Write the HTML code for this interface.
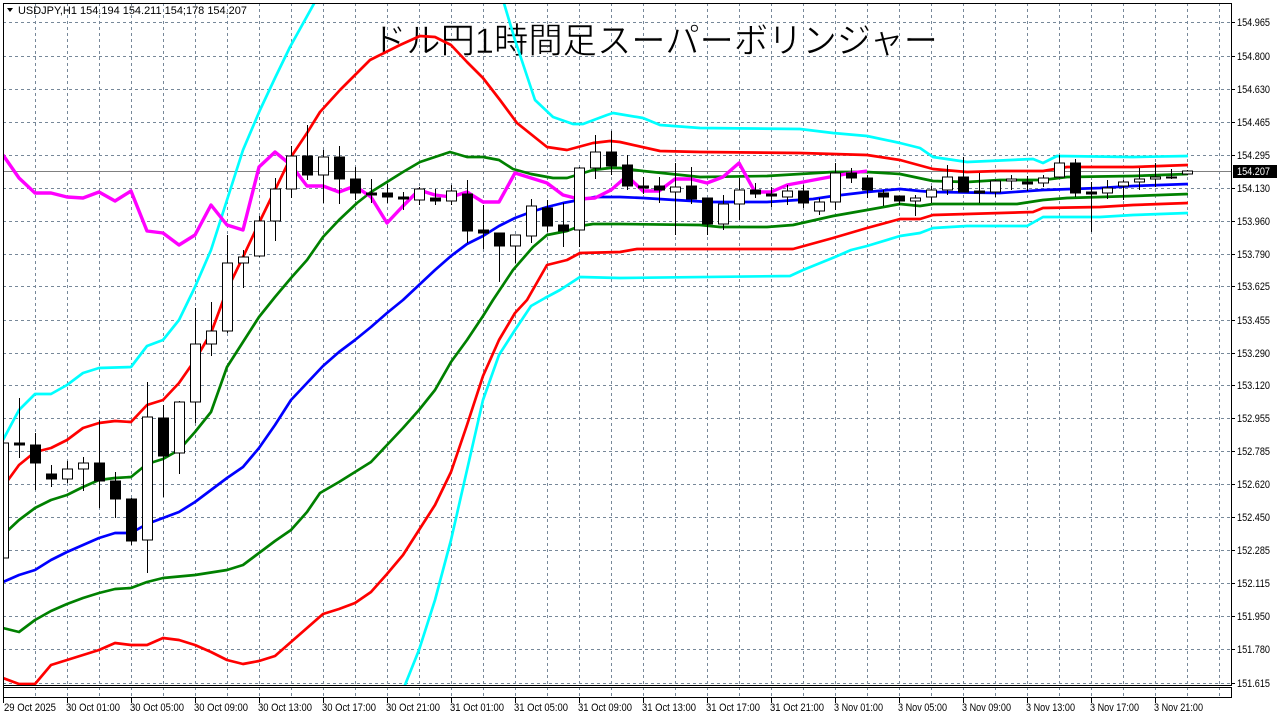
<!DOCTYPE html>
<html><head><meta charset="utf-8"><style>
html,body{margin:0;padding:0;background:#fff;}
svg{display:block;font-family:"Liberation Sans","DejaVu Sans",sans-serif;}
</style></head><body>
<svg width="1277" height="718" viewBox="0 0 1277 718" xmlns="http://www.w3.org/2000/svg">
<defs><clipPath id="c"><rect x="3" y="3" width="1229" height="682"/></clipPath></defs>
<rect width="1277" height="718" fill="#fff"/>
<g stroke="#778899" stroke-width="1" stroke-dasharray="3,3" shape-rendering="crispEdges">
<line x1="3" x2="1232" y1="22.5" y2="22.5"/><line x1="3" x2="1232" y1="56.5" y2="56.5"/><line x1="3" x2="1232" y1="89.5" y2="89.5"/><line x1="3" x2="1232" y1="122.5" y2="122.5"/><line x1="3" x2="1232" y1="155.5" y2="155.5"/><line x1="3" x2="1232" y1="188.5" y2="188.5"/><line x1="3" x2="1232" y1="221.5" y2="221.5"/><line x1="3" x2="1232" y1="254.5" y2="254.5"/><line x1="3" x2="1232" y1="286.5" y2="286.5"/><line x1="3" x2="1232" y1="320.5" y2="320.5"/><line x1="3" x2="1232" y1="353.5" y2="353.5"/><line x1="3" x2="1232" y1="385.5" y2="385.5"/><line x1="3" x2="1232" y1="418.5" y2="418.5"/><line x1="3" x2="1232" y1="451.5" y2="451.5"/><line x1="3" x2="1232" y1="484.5" y2="484.5"/><line x1="3" x2="1232" y1="517.5" y2="517.5"/><line x1="3" x2="1232" y1="550.5" y2="550.5"/><line x1="3" x2="1232" y1="583.5" y2="583.5"/><line x1="3" x2="1232" y1="616.5" y2="616.5"/><line x1="3" x2="1232" y1="649.5" y2="649.5"/><line x1="3" x2="1232" y1="683.5" y2="683.5"/>
</g>
<g stroke="#778899" stroke-width="1" stroke-dasharray="3,3" shape-rendering="crispEdges">
<line x1="35.5" x2="35.5" y1="3" y2="697"/><line x1="67.5" x2="67.5" y1="3" y2="697"/><line x1="99.5" x2="99.5" y1="3" y2="697"/><line x1="131.5" x2="131.5" y1="3" y2="697"/><line x1="163.5" x2="163.5" y1="3" y2="697"/><line x1="195.5" x2="195.5" y1="3" y2="697"/><line x1="227.5" x2="227.5" y1="3" y2="697"/><line x1="259.5" x2="259.5" y1="3" y2="697"/><line x1="291.5" x2="291.5" y1="3" y2="697"/><line x1="323.5" x2="323.5" y1="3" y2="697"/><line x1="355.5" x2="355.5" y1="3" y2="697"/><line x1="387.5" x2="387.5" y1="3" y2="697"/><line x1="419.5" x2="419.5" y1="3" y2="697"/><line x1="451.5" x2="451.5" y1="3" y2="697"/><line x1="483.5" x2="483.5" y1="3" y2="697"/><line x1="515.5" x2="515.5" y1="3" y2="697"/><line x1="547.5" x2="547.5" y1="3" y2="697"/><line x1="579.5" x2="579.5" y1="3" y2="697"/><line x1="611.5" x2="611.5" y1="3" y2="697"/><line x1="643.5" x2="643.5" y1="3" y2="697"/><line x1="675.5" x2="675.5" y1="3" y2="697"/><line x1="707.5" x2="707.5" y1="3" y2="697"/><line x1="739.5" x2="739.5" y1="3" y2="697"/><line x1="771.5" x2="771.5" y1="3" y2="697"/><line x1="803.5" x2="803.5" y1="3" y2="697"/><line x1="835.5" x2="835.5" y1="3" y2="697"/><line x1="867.5" x2="867.5" y1="3" y2="697"/><line x1="899.5" x2="899.5" y1="3" y2="697"/><line x1="931.5" x2="931.5" y1="3" y2="697"/><line x1="963.5" x2="963.5" y1="3" y2="697"/><line x1="995.5" x2="995.5" y1="3" y2="697"/><line x1="1027.5" x2="1027.5" y1="3" y2="697"/><line x1="1059.5" x2="1059.5" y1="3" y2="697"/><line x1="1091.5" x2="1091.5" y1="3" y2="697"/><line x1="1123.5" x2="1123.5" y1="3" y2="697"/><line x1="1155.5" x2="1155.5" y1="3" y2="697"/><line x1="1187.5" x2="1187.5" y1="3" y2="697"/><line x1="1219.5" x2="1219.5" y1="3" y2="697"/>
</g>
<line x1="3" x2="1232" y1="171.5" y2="171.5" stroke="#808080" stroke-width="1"/>

<text x="372" y="53" font-family="'Liberation Sans','Noto Sans CJK JP',sans-serif" font-size="35" fill="#000" stroke="#fff" stroke-width="0.6" textLength="566" lengthAdjust="spacingAndGlyphs">ドル円1時間足スーパーボリンジャー</text>

<g clip-path="url(#c)" fill="none" stroke-linejoin="round">
<polyline stroke="#00ffff" stroke-width="2.7" points="3,440 19,410 35,394 51,394 67,385 83,373 99,368 131,367 147,346 163,340 179,320 195,287 211,250 227,200 243,150 260,110 275,78 290,47 316,0"/>
<polyline stroke="#00ffff" stroke-width="2.7" points="503,0 515,40 535,100 553,117 573,124 583,124 607,115 613,113 643,118 660,125 700,128 800,129 833,133 867,136 900,143 920,148 933,157 967,162 1033,159 1043,163 1057,156 1133,157 1188,156"/>
<polyline stroke="#00ffff" stroke-width="2.7" points="403,690 419,650 435,600 451,540 467,470 483,400 499,355 515,330 531,306 545,298 560,290 580,277 620,278 790,276 803,270 835,257 851,250 867,246 900,236 920,233 933,228 967,226 1027,226 1043,217 1100,217 1133,215 1188,213"/>
<polyline stroke="#ff0000" stroke-width="2.7" points="3,487 19,465 35,452 51,448 67,440 83,428 99,423 115,421 131,422 147,405 163,400 179,383 195,360 211,333 227,290 243,257 259,223 275,190 291,157 307,133 320,112 340,90 370,60 400,45 420,36 435,37 451,45 467,62 483,78 500,100 517,123 547,147 567,150 593,143 610,141 620,142 660,151 700,152 800,153 867,155 900,160 933,169 967,172 1000,171 1043,171 1067,167 1133,167 1188,165"/>
<polyline stroke="#ff0000" stroke-width="2.7" points="3,678 19,684 35,684 51,665 67,660 83,655 99,650 115,643 131,645 147,645 163,638 179,640 195,645 211,652 227,660 243,664 259,661 275,656 291,642 307,628 323,614 339,609 355,603 371,592 387,574 403,555 419,530 435,505 451,472 467,425 483,376 499,340 515,313 527,300 547,265 567,260 580,253 620,252 637,249 703,249 793,249 833,238 867,228 900,219 920,219 933,215 1033,212 1043,208 1100,207 1133,205 1188,203"/>
<polyline stroke="#008000" stroke-width="2.7" points="3,535 19,520 35,508 51,500 67,495 83,487 99,480 115,478 131,477 147,464 163,459 179,450 195,432 211,412 227,367 243,342 259,317 275,297 291,278 307,260 323,237 339,220 357,203 371,192 387,182 403,172 420,162 435,157 450,152 467,157 483,157 499,160 513,169 531,174 553,178 567,178 580,174 593,170 610,168 620,168 643,171 700,177 767,176 833,172 867,172 900,174 933,181 967,182 1000,180 1043,180 1067,177 1133,176 1188,174"/>
<polyline stroke="#008000" stroke-width="2.7" points="3,628 19,632 35,620 51,611 67,604 83,598 99,593 115,589 131,588 147,582 163,578 195,575 227,570 243,565 259,553 275,541 291,530 307,512 320,493 339,482 355,472 371,462 387,445 403,428 419,410 435,390 451,362 467,340 483,316 493,300 513,270 533,247 547,235 567,231 580,226 593,224 620,224 700,225 720,227 767,227 793,225 833,216 867,210 900,204 920,206 933,204 1017,204 1043,200 1067,198 1133,196 1188,194"/>
<polyline stroke="#0000ff" stroke-width="2.7" points="3,582 19,575 35,570 51,560 67,552 83,545 99,538 115,533 131,533 147,524 163,518 179,512 195,502 211,490 227,478 243,467 259,448 275,425 291,400 307,383 323,366 339,352 355,340 371,327 387,313 403,300 419,285 435,270 451,256 467,244 483,236 499,226 515,218 531,212 547,207 563,203 579,200 595,197 620,197 643,198 675,200 710,202 767,202 813,199 833,196 867,192 900,189 920,191 933,192 1000,193 1043,190 1100,188 1133,186 1188,184"/>
<polyline stroke="#ff00ff" stroke-width="3.4" points="3,155 19,178 35,193 51,193 67,197 83,198 99,192 115,201 131,191 147,231 163,233 179,245 195,235 211,205 227,225 243,230 259,167 275,152 291,165 307,186 323,186 339,192 355,186 371,197 387,223 403,206 419,190 435,195 451,197 467,192 483,202 499,202 515,173 531,178 547,183 563,195 579,199 595,198 611,190 627,176 643,191 659,191 675,179 691,179 707,183 723,177 739,163 755,192 771,192 787,185 803,182 819,179 835,176 851,173 867,171"/>
</g>

<g stroke="#000" stroke-width="1" shape-rendering="crispEdges">
<line x1="3.5" x2="3.5" y1="400" y2="570"/><rect x="-1.5" y="443" width="10" height="115" fill="#fff"/>
<line x1="19.5" x2="19.5" y1="398" y2="458"/><rect x="14.5" y="443" width="10" height="2" fill="#000"/>
<line x1="35.5" x2="35.5" y1="433" y2="490"/><rect x="30.5" y="445" width="10" height="18" fill="#000"/>
<line x1="51.5" x2="51.5" y1="465" y2="487"/><rect x="46.5" y="474" width="10" height="5" fill="#000"/>
<line x1="67.5" x2="67.5" y1="461" y2="483"/><rect x="62.5" y="469" width="10" height="10" fill="#fff"/>
<line x1="83.5" x2="83.5" y1="457" y2="491"/><rect x="78.5" y="463" width="10" height="6" fill="#fff"/>
<line x1="99.5" x2="99.5" y1="420" y2="508"/><rect x="94.5" y="463" width="10" height="18" fill="#000"/>
<line x1="115.5" x2="115.5" y1="472" y2="518"/><rect x="110.5" y="481" width="10" height="18" fill="#000"/>
<line x1="131.5" x2="131.5" y1="498" y2="545"/><rect x="126.5" y="499" width="10" height="42" fill="#000"/>
<line x1="147.5" x2="147.5" y1="382" y2="573"/><rect x="142.5" y="417" width="10" height="123" fill="#fff"/>
<line x1="163.5" x2="163.5" y1="405" y2="497"/><rect x="158.5" y="418" width="10" height="38" fill="#000"/>
<line x1="179.5" x2="179.5" y1="401" y2="474"/><rect x="174.5" y="402" width="10" height="51" fill="#fff"/>
<line x1="195.5" x2="195.5" y1="308" y2="423"/><rect x="190.5" y="344" width="10" height="58" fill="#fff"/>
<line x1="211.5" x2="211.5" y1="302" y2="356"/><rect x="206.5" y="331" width="10" height="13" fill="#fff"/>
<line x1="227.5" x2="227.5" y1="235" y2="333"/><rect x="222.5" y="263" width="10" height="68" fill="#fff"/>
<line x1="243.5" x2="243.5" y1="250" y2="288"/><rect x="238.5" y="257" width="10" height="6" fill="#fff"/>
<line x1="259.5" x2="259.5" y1="216" y2="257"/><rect x="254.5" y="221" width="10" height="35" fill="#fff"/>
<line x1="275.5" x2="275.5" y1="178" y2="241"/><rect x="270.5" y="189" width="10" height="32" fill="#fff"/>
<line x1="291.5" x2="291.5" y1="146" y2="198"/><rect x="286.5" y="156" width="10" height="33" fill="#fff"/>
<line x1="307.5" x2="307.5" y1="125" y2="180"/><rect x="302.5" y="156" width="10" height="19" fill="#000"/>
<line x1="323.5" x2="323.5" y1="150" y2="203"/><rect x="318.5" y="157" width="10" height="18" fill="#fff"/>
<line x1="339.5" x2="339.5" y1="146" y2="204"/><rect x="334.5" y="157" width="10" height="22" fill="#000"/>
<line x1="355.5" x2="355.5" y1="167" y2="200"/><rect x="350.5" y="179" width="10" height="14" fill="#000"/>
<line x1="371.5" x2="371.5" y1="179" y2="203"/><rect x="366.5" y="193" width="10" height="2" fill="#000"/>
<line x1="387.5" x2="387.5" y1="184" y2="203"/><rect x="382.5" y="193" width="10" height="4" fill="#000"/>
<line x1="403.5" x2="403.5" y1="192" y2="210"/><rect x="398.5" y="197" width="10" height="2" fill="#000"/>
<line x1="419.5" x2="419.5" y1="187" y2="205"/><rect x="414.5" y="189" width="10" height="11" fill="#fff"/>
<line x1="435.5" x2="435.5" y1="189" y2="205"/><rect x="430.5" y="198" width="10" height="3" fill="#000"/>
<line x1="451.5" x2="451.5" y1="185" y2="205"/><rect x="446.5" y="191" width="10" height="10" fill="#fff"/>
<line x1="467.5" x2="467.5" y1="180" y2="243"/><rect x="462.5" y="194" width="10" height="37" fill="#000"/>
<line x1="483.5" x2="483.5" y1="205" y2="249"/><rect x="478.5" y="230" width="10" height="3" fill="#000"/>
<line x1="499.5" x2="499.5" y1="233" y2="282"/><rect x="494.5" y="233" width="10" height="13" fill="#000"/>
<line x1="515.5" x2="515.5" y1="235" y2="263"/><rect x="510.5" y="235" width="10" height="11" fill="#fff"/>
<line x1="531.5" x2="531.5" y1="199" y2="243"/><rect x="526.5" y="206" width="10" height="30" fill="#fff"/>
<line x1="547.5" x2="547.5" y1="200" y2="232"/><rect x="542.5" y="208" width="10" height="18" fill="#000"/>
<line x1="563.5" x2="563.5" y1="203" y2="247"/><rect x="558.5" y="225" width="10" height="6" fill="#000"/>
<line x1="579.5" x2="579.5" y1="167" y2="247"/><rect x="574.5" y="168" width="10" height="62" fill="#fff"/>
<line x1="595.5" x2="595.5" y1="135" y2="179"/><rect x="590.5" y="152" width="10" height="16" fill="#fff"/>
<line x1="611.5" x2="611.5" y1="131" y2="175"/><rect x="606.5" y="152" width="10" height="14" fill="#000"/>
<line x1="627.5" x2="627.5" y1="155" y2="190"/><rect x="622.5" y="165" width="10" height="21" fill="#000"/>
<line x1="643.5" x2="643.5" y1="177" y2="194"/><rect x="638.5" y="186" width="10" height="2" fill="#000"/>
<line x1="659.5" x2="659.5" y1="177" y2="203"/><rect x="654.5" y="186" width="10" height="4" fill="#000"/>
<line x1="675.5" x2="675.5" y1="163" y2="235"/><rect x="670.5" y="187" width="10" height="5" fill="#fff"/>
<line x1="691.5" x2="691.5" y1="167" y2="204"/><rect x="686.5" y="186" width="10" height="13" fill="#000"/>
<line x1="707.5" x2="707.5" y1="198" y2="235"/><rect x="702.5" y="198" width="10" height="26" fill="#000"/>
<line x1="723.5" x2="723.5" y1="195" y2="230"/><rect x="718.5" y="204" width="10" height="20" fill="#fff"/>
<line x1="739.5" x2="739.5" y1="178" y2="220"/><rect x="734.5" y="190" width="10" height="14" fill="#fff"/>
<line x1="755.5" x2="755.5" y1="183" y2="198"/><rect x="750.5" y="190" width="10" height="4" fill="#000"/>
<line x1="771.5" x2="771.5" y1="187" y2="207"/><rect x="766.5" y="194" width="10" height="2" fill="#000"/>
<line x1="787.5" x2="787.5" y1="185" y2="205"/><rect x="782.5" y="191" width="10" height="6" fill="#fff"/>
<line x1="803.5" x2="803.5" y1="185" y2="208"/><rect x="798.5" y="191" width="10" height="12" fill="#000"/>
<line x1="819.5" x2="819.5" y1="198" y2="215"/><rect x="814.5" y="202" width="10" height="9" fill="#fff"/>
<line x1="835.5" x2="835.5" y1="163" y2="210"/><rect x="830.5" y="173" width="10" height="29" fill="#fff"/>
<line x1="851.5" x2="851.5" y1="168" y2="183"/><rect x="846.5" y="173" width="10" height="5" fill="#000"/>
<line x1="867.5" x2="867.5" y1="175" y2="198"/><rect x="862.5" y="178" width="10" height="12" fill="#000"/>
<line x1="883.5" x2="883.5" y1="190" y2="206"/><rect x="878.5" y="193" width="10" height="4" fill="#000"/>
<line x1="899.5" x2="899.5" y1="196" y2="205"/><rect x="894.5" y="196" width="10" height="5" fill="#000"/>
<line x1="915.5" x2="915.5" y1="195" y2="216"/><rect x="910.5" y="198" width="10" height="3" fill="#fff"/>
<line x1="931.5" x2="931.5" y1="186" y2="203"/><rect x="926.5" y="190" width="10" height="7" fill="#fff"/>
<line x1="947.5" x2="947.5" y1="165" y2="195"/><rect x="942.5" y="177" width="10" height="13" fill="#fff"/>
<line x1="963.5" x2="963.5" y1="157" y2="192"/><rect x="958.5" y="177" width="10" height="15" fill="#000"/>
<line x1="979.5" x2="979.5" y1="173" y2="203"/><rect x="974.5" y="191" width="10" height="2" fill="#000"/>
<line x1="995.5" x2="995.5" y1="180" y2="197"/><rect x="990.5" y="181" width="10" height="11" fill="#fff"/>
<line x1="1011.5" x2="1011.5" y1="175" y2="190"/><rect x="1006.5" y="179" width="10" height="2" fill="#fff"/>
<line x1="1027.5" x2="1027.5" y1="176" y2="191"/><rect x="1022.5" y="182" width="10" height="2" fill="#000"/>
<line x1="1043.5" x2="1043.5" y1="175" y2="187"/><rect x="1038.5" y="178" width="10" height="5" fill="#fff"/>
<line x1="1059.5" x2="1059.5" y1="155" y2="178"/><rect x="1054.5" y="163" width="10" height="14" fill="#fff"/>
<line x1="1075.5" x2="1075.5" y1="159" y2="197"/><rect x="1070.5" y="163" width="10" height="30" fill="#000"/>
<line x1="1091.5" x2="1091.5" y1="182" y2="232"/><rect x="1086.5" y="192" width="10" height="2" fill="#000"/>
<line x1="1107.5" x2="1107.5" y1="180" y2="199"/><rect x="1102.5" y="188" width="10" height="5" fill="#fff"/>
<line x1="1123.5" x2="1123.5" y1="180" y2="200"/><rect x="1118.5" y="182" width="10" height="4" fill="#fff"/>
<line x1="1139.5" x2="1139.5" y1="168" y2="190"/><rect x="1134.5" y="179" width="10" height="3" fill="#fff"/>
<line x1="1155.5" x2="1155.5" y1="163" y2="187"/><rect x="1150.5" y="177" width="10" height="2" fill="#fff"/>
<line x1="1171.5" x2="1171.5" y1="169" y2="179"/><rect x="1166.5" y="177" width="10" height="1" fill="#fff"/>
<line x1="1187.5" x2="1187.5" y1="170" y2="175"/><rect x="1182.5" y="171" width="10" height="3" fill="#fff"/>
</g>

<g fill="none" stroke="#000" stroke-width="1" shape-rendering="crispEdges">
<rect x="3.5" y="3.5" width="1228" height="682"/>
<rect x="3.5" y="687.5" width="1228" height="10"/>
</g>
<rect x="0" y="0" width="3" height="718" fill="#fff"/>
<line x1="3.5" x2="3.5" y1="3" y2="698" stroke="#000" shape-rendering="crispEdges"/>

<text x="18" y="14" font-size="11" fill="#000" textLength="229" lengthAdjust="spacingAndGlyphs">USDJPY,H1  154.194 154.211 154;178 154.207</text>
<polygon points="7,8 13,8 10,12" fill="#000"/>

<g font-size="11" fill="#000">
<text x="1237" y="26" textLength="33" lengthAdjust="spacingAndGlyphs">154.965</text><text x="1237" y="60" textLength="33" lengthAdjust="spacingAndGlyphs">154.800</text><text x="1237" y="93" textLength="33" lengthAdjust="spacingAndGlyphs">154.630</text><text x="1237" y="126" textLength="33" lengthAdjust="spacingAndGlyphs">154.465</text><text x="1237" y="159" textLength="33" lengthAdjust="spacingAndGlyphs">154.295</text><text x="1237" y="192" textLength="33" lengthAdjust="spacingAndGlyphs">154.130</text><text x="1237" y="225" textLength="33" lengthAdjust="spacingAndGlyphs">153.960</text><text x="1237" y="258" textLength="33" lengthAdjust="spacingAndGlyphs">153.790</text><text x="1237" y="290" textLength="33" lengthAdjust="spacingAndGlyphs">153.625</text><text x="1237" y="324" textLength="33" lengthAdjust="spacingAndGlyphs">153.455</text><text x="1237" y="357" textLength="33" lengthAdjust="spacingAndGlyphs">153.290</text><text x="1237" y="389" textLength="33" lengthAdjust="spacingAndGlyphs">153.120</text><text x="1237" y="422" textLength="33" lengthAdjust="spacingAndGlyphs">152.955</text><text x="1237" y="455" textLength="33" lengthAdjust="spacingAndGlyphs">152.785</text><text x="1237" y="488" textLength="33" lengthAdjust="spacingAndGlyphs">152.620</text><text x="1237" y="521" textLength="33" lengthAdjust="spacingAndGlyphs">152.450</text><text x="1237" y="554" textLength="33" lengthAdjust="spacingAndGlyphs">152.285</text><text x="1237" y="587" textLength="33" lengthAdjust="spacingAndGlyphs">152.115</text><text x="1237" y="620" textLength="33" lengthAdjust="spacingAndGlyphs">151.950</text><text x="1237" y="653" textLength="33" lengthAdjust="spacingAndGlyphs">151.780</text><text x="1237" y="687" textLength="33" lengthAdjust="spacingAndGlyphs">151.615</text>
</g>
<g stroke="#000" shape-rendering="crispEdges">
<line x1="1232" x2="1235" y1="22.5" y2="22.5"/><line x1="1232" x2="1235" y1="56.5" y2="56.5"/><line x1="1232" x2="1235" y1="89.5" y2="89.5"/><line x1="1232" x2="1235" y1="122.5" y2="122.5"/><line x1="1232" x2="1235" y1="155.5" y2="155.5"/><line x1="1232" x2="1235" y1="188.5" y2="188.5"/><line x1="1232" x2="1235" y1="221.5" y2="221.5"/><line x1="1232" x2="1235" y1="254.5" y2="254.5"/><line x1="1232" x2="1235" y1="286.5" y2="286.5"/><line x1="1232" x2="1235" y1="320.5" y2="320.5"/><line x1="1232" x2="1235" y1="353.5" y2="353.5"/><line x1="1232" x2="1235" y1="385.5" y2="385.5"/><line x1="1232" x2="1235" y1="418.5" y2="418.5"/><line x1="1232" x2="1235" y1="451.5" y2="451.5"/><line x1="1232" x2="1235" y1="484.5" y2="484.5"/><line x1="1232" x2="1235" y1="517.5" y2="517.5"/><line x1="1232" x2="1235" y1="550.5" y2="550.5"/><line x1="1232" x2="1235" y1="583.5" y2="583.5"/><line x1="1232" x2="1235" y1="616.5" y2="616.5"/><line x1="1232" x2="1235" y1="649.5" y2="649.5"/><line x1="1232" x2="1235" y1="683.5" y2="683.5"/>
</g>
<rect x="1233" y="165" width="44" height="13" fill="#000"/>
<text x="1237" y="175" font-size="11" fill="#fff" textLength="33" lengthAdjust="spacingAndGlyphs">154.207</text>

<g stroke="#000" shape-rendering="crispEdges">
<line x1="3.5" x2="3.5" y1="698" y2="703"/><line x1="67.5" x2="67.5" y1="698" y2="703"/><line x1="131.5" x2="131.5" y1="698" y2="703"/><line x1="195.5" x2="195.5" y1="698" y2="703"/><line x1="259.5" x2="259.5" y1="698" y2="703"/><line x1="323.5" x2="323.5" y1="698" y2="703"/><line x1="387.5" x2="387.5" y1="698" y2="703"/><line x1="451.5" x2="451.5" y1="698" y2="703"/><line x1="515.5" x2="515.5" y1="698" y2="703"/><line x1="579.5" x2="579.5" y1="698" y2="703"/><line x1="643.5" x2="643.5" y1="698" y2="703"/><line x1="707.5" x2="707.5" y1="698" y2="703"/><line x1="771.5" x2="771.5" y1="698" y2="703"/><line x1="835.5" x2="835.5" y1="698" y2="703"/><line x1="899.5" x2="899.5" y1="698" y2="703"/><line x1="963.5" x2="963.5" y1="698" y2="703"/><line x1="1027.5" x2="1027.5" y1="698" y2="703"/><line x1="1091.5" x2="1091.5" y1="698" y2="703"/><line x1="1155.5" x2="1155.5" y1="698" y2="703"/>
</g>
<g font-size="11" fill="#000">
<text x="4" y="711" textLength="52" lengthAdjust="spacingAndGlyphs">29 Oct 2025</text><text x="66" y="711" textLength="54" lengthAdjust="spacingAndGlyphs">30 Oct 01:00</text><text x="130" y="711" textLength="54" lengthAdjust="spacingAndGlyphs">30 Oct 05:00</text><text x="194" y="711" textLength="54" lengthAdjust="spacingAndGlyphs">30 Oct 09:00</text><text x="258" y="711" textLength="54" lengthAdjust="spacingAndGlyphs">30 Oct 13:00</text><text x="322" y="711" textLength="54" lengthAdjust="spacingAndGlyphs">30 Oct 17:00</text><text x="386" y="711" textLength="54" lengthAdjust="spacingAndGlyphs">30 Oct 21:00</text><text x="450" y="711" textLength="54" lengthAdjust="spacingAndGlyphs">31 Oct 01:00</text><text x="514" y="711" textLength="54" lengthAdjust="spacingAndGlyphs">31 Oct 05:00</text><text x="578" y="711" textLength="54" lengthAdjust="spacingAndGlyphs">31 Oct 09:00</text><text x="642" y="711" textLength="54" lengthAdjust="spacingAndGlyphs">31 Oct 13:00</text><text x="706" y="711" textLength="54" lengthAdjust="spacingAndGlyphs">31 Oct 17:00</text><text x="770" y="711" textLength="54" lengthAdjust="spacingAndGlyphs">31 Oct 21:00</text><text x="834" y="711" textLength="49" lengthAdjust="spacingAndGlyphs">3 Nov 01:00</text><text x="898" y="711" textLength="49" lengthAdjust="spacingAndGlyphs">3 Nov 05:00</text><text x="962" y="711" textLength="49" lengthAdjust="spacingAndGlyphs">3 Nov 09:00</text><text x="1026" y="711" textLength="49" lengthAdjust="spacingAndGlyphs">3 Nov 13:00</text><text x="1090" y="711" textLength="49" lengthAdjust="spacingAndGlyphs">3 Nov 17:00</text><text x="1154" y="711" textLength="49" lengthAdjust="spacingAndGlyphs">3 Nov 21:00</text>
</g>
</svg>
</body></html>
